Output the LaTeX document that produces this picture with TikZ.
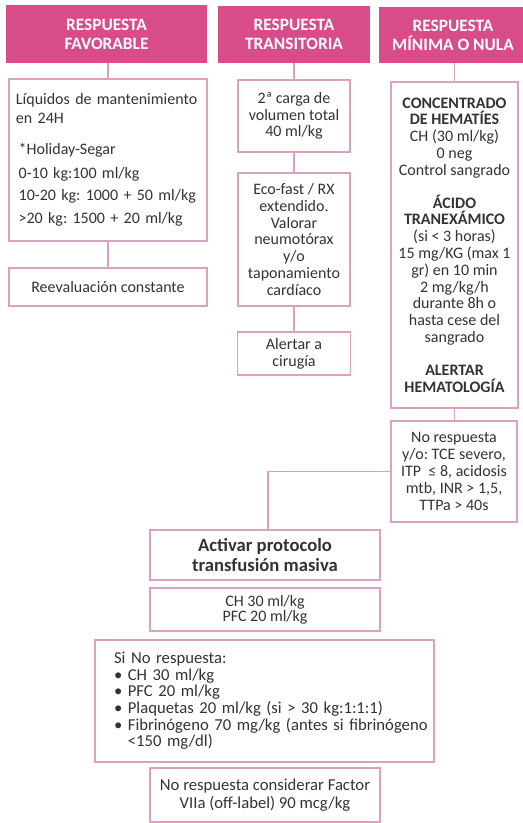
\documentclass[tikz,border=0pt]{standalone}
\usepackage{fontspec}
\setmainfont{Carlito}
\usepackage{tikz}
\definecolor{rosa}{HTML}{D94C8A}
\definecolor{rosaclaro}{HTML}{DDA0BE}
\definecolor{texto}{HTML}{333333}
\frenchspacing

\begin{document}
\begin{tikzpicture}[x=0.75pt, y=-0.75pt,
    kopf/.style={fill=rosa, draw=none, text=white, inner sep=0pt, align=center,
      font=\fontsize{13}{14.25}\selectfont\bfseries},
    kasten/.style={draw=rosaclaro, line width=1pt, fill=white, text=texto, inner sep=0pt,
      align=center, font=\fontsize{12}{12.6}\selectfont},
    linie/.style={draw=rosaclaro, line width=0.8pt}]
  \useasboundingbox (0,0) rectangle (522,823);
  % cabeceras
  \node[kopf, minimum width=150.75pt, minimum height=43.5pt] (kopfA) at (106.5,34) {RESPUESTA\\FAVORABLE};
  \node[kopf, minimum width=114pt, minimum height=42.75pt] (kopfB) at (294,34.5) {RESPUESTA\\TRANSITORIA};
  \node[kopf, minimum width=111pt, minimum height=42pt] (kopfC) at (453,35) {RESPUESTA\\MÍNIMA O NULA};
  % columna favorable
  \node[kasten, minimum width=148.5pt, minimum height=121.5pt, text width=138pt, align=left,
    font=\fontsize{12}{14.25}\selectfont] (liquidos) at (108,160)
    {Líquidos de mantenimiento\\ en 24H\\[9pt]
     \hspace*{2pt}*Holiday-Segar\\[3.75pt]
     \hspace*{2pt}0-10 kg:100 ml/kg\\[2.25pt]
     \hspace*{2pt}10-20 kg: 1000 + 50 ml/kg\\[3pt]
     \hspace*{2pt}>20 kg: 1500 + 20 ml/kg};
  \node[kasten, minimum width=148.5pt, minimum height=28.5pt] (reeval) at (108,287) {Reevaluación constante};
  % columna transitoria
  \node[kasten, minimum width=84pt, minimum height=54pt] (carga) at (294,116) {2ª carga de\\ volumen total\\ 40 ml/kg};
  \node[kasten, minimum width=84pt, minimum height=99.75pt] (ecofast) at (294,239.5)
    {Eco-fast / RX\\ extendido.\\ Valorar\\ neumotórax\\ y/o\\ taponamiento\\ cardíaco};
  \node[kasten, minimum width=84.75pt, minimum height=32.25pt] (cirugia) at (294,353.5) {Alertar a\\ cirugía};
  % columna minima o nula
  \node[kasten, minimum width=95.25pt, minimum height=244.5pt] (hematies) at (454.5,245)
    {\textbf{CONCENTRADO}\\ \textbf{DE HEMATÍES}\\ CH (30 ml/kg)\\ 0 neg\\ Control sangrado\\[12pt]
     \textbf{ÁCIDO}\\ \textbf{TRANEXÁMICO}\\ (si < 3 horas)\\ 15 mg/KG (max 1\\ gr) en 10 min\\
     2 mg/kg/h\\ durante 8h o\\ hasta cese del\\ sangrado\\[12pt]
     \textbf{ALERTAR}\\ \textbf{HEMATOLOGÍA}};
  \node[kasten, minimum width=94.5pt, minimum height=75.75pt] (norespuesta) at (454,471.5)
    {No respuesta\\ y/o: TCE severo,\\ ITP \ ≤ 8, acidosis\\ mtb, INR > 1,5,\\ TTPa > 40s};
  % transfusion masiva
  \node[kasten, minimum width=172.5pt, minimum height=37.5pt, font=\fontsize{14}{15}\selectfont\bfseries]
    (activar) at (265,555) {Activar protocolo\\ transfusión masiva};
  \node[kasten, minimum width=172.5pt, minimum height=32.25pt, font=\fontsize{12}{11.3}\selectfont]
    (dosis) at (265,609.5) {CH 30 ml/kg\\ PFC 20 ml/kg};
  \node[kasten, minimum width=254.25pt, minimum height=91.5pt, text width=225.75pt, align=left,
    font=\fontsize{12.5}{12.5}\selectfont] (sino) at (264.5,701)
    {Si No respuesta:\\
     \textbullet\ CH 30 ml/kg\\
     \textbullet\ PFC 20 ml/kg\\
     \textbullet\ Plaquetas 20 ml/kg (si > 30 kg:1:1:1)\\
     \mbox{\textbullet\ Fibrinógeno 70 mg/kg (antes si fibrinógeno}\\
     \phantom{\textbullet\ }<150 mg/dl)};
  \node[kasten, minimum width=172.5pt, minimum height=40.5pt, font=\fontsize{12.5}{13.5}\selectfont]
    (factor) at (265,795) {No respuesta considerar Factor\\ VIIa (off-label) 90 mcg/kg};
  % lineas
  \coordinate (knick) at (268,471.5);
  \draw[linie] (liquidos.north) -- (liquidos.north |- kopfA.south);
  \draw[linie] (liquidos.south) -- (reeval.north);
  \draw[linie] (carga.north) -- (carga.north |- kopfB.south);
  \draw[linie] (carga.south) -- (ecofast.north);
  \draw[linie] (ecofast.south) -- (ecofast.south |- cirugia.north);
  \draw[linie] (hematies.north) -- (hematies.north |- kopfC.south);
  \draw[linie] (hematies.south) -- (hematies.south |- norespuesta.north);
  \draw[linie] (norespuesta.west) -- (knick) -- (knick |- activar.north);
\end{tikzpicture}
\end{document}
